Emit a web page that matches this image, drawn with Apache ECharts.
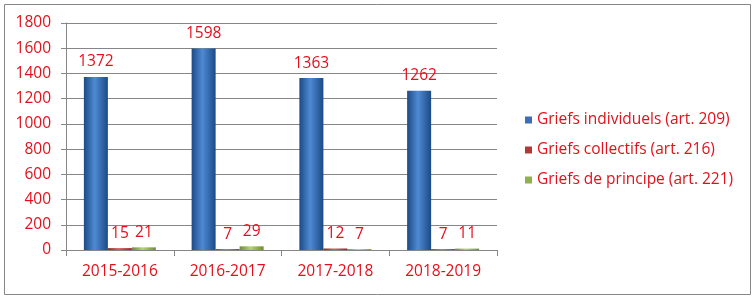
<!DOCTYPE html>
<html>
<head>
<meta charset="utf-8">
<script src="https://cdn.jsdelivr.net/npm/echarts@6/dist/echarts.min.js"></script>
<style>html,body{margin:0;padding:0;background:#fff}#c{width:755px;height:300px}</style>
</head>
<body>
<div id="c"></div>
<script>
const categories = ['2015-2016', '2016-2017', '2017-2018', '2018-2019'];
const seriesNames = ['Griefs individuels (art. 209)', 'Griefs collectifs (art. 216)', 'Griefs de principe (art. 221)'];
const individuels = [1372, 1598, 1363, 1262];
const collectifs = [15, 7, 12, 7];
const principe = [21, 29, 7, 11];

const RED = '#e3101c';
const FONT = '"Open Sans", sans-serif';
function grad(edge, mid) {
  return new echarts.graphic.LinearGradient(0, 0, 1, 0, [
    {offset: 0, color: edge}, {offset: 0.45, color: mid}, {offset: 1, color: edge}
  ]);
}
const colors = [grad('#1c4a85', '#4f8ad4'), grad('#8c2a27', '#d9605c'), grad('#6f8c35', '#b5d36e')];
const legendColors = ['#3a6fb5', '#b23a36', '#8fb04a'];

const chart = echarts.init(document.getElementById('c'));
const mk = (name, data, i) => ({
  name, type: 'bar', data,
  barWidth: 24, barGap: '0%',
  itemStyle: {color: colors[i]},
  label: {show: true, position: 'top', distance: 7, color: RED, fontSize: 15.5, fontFamily: FONT}
});
chart.setOption({
  animation: false,
  color: legendColors,
  graphic: [{type: 'rect', shape: {x: 4.5, y: 4.5, width: 746, height: 290}, style: {fill: 'none', stroke: '#868686', lineWidth: 1}, silent: true}],
  grid: {left: 66, top: 23, right: 258, bottom: 50},
  legend: {
    orient: 'vertical', left: 520, top: 107, itemGap: 14,
    itemWidth: 7, itemHeight: 7, icon: 'rect',
    textStyle: {color: RED, fontSize: 15.5, fontFamily: FONT},
    data: seriesNames.map((n, i) => ({name: n, itemStyle: {color: legendColors[i]}}))
  },
  xAxis: {
    type: 'category', data: categories,
    axisLine: {lineStyle: {color: '#868686'}},
    axisTick: {show: true, length: 6, lineStyle: {color: '#868686'}},
    axisLabel: {color: RED, fontSize: 15.5, fontFamily: FONT, margin: 14}
  },
  yAxis: {
    type: 'value', min: 0, max: 1800, interval: 200,
    axisLine: {show: true, lineStyle: {color: '#868686'}},
    axisTick: {show: true, length: 5, lineStyle: {color: '#868686'}},
    splitLine: {lineStyle: {color: '#868686'}},
    axisLabel: {color: RED, fontSize: 15.5, fontFamily: FONT, margin: 15, formatter: v => String(v)}
  },
  series: [mk(seriesNames[0], individuels, 0), mk(seriesNames[1], collectifs, 1), mk(seriesNames[2], principe, 2)]
});
</script>
</body>
</html>
